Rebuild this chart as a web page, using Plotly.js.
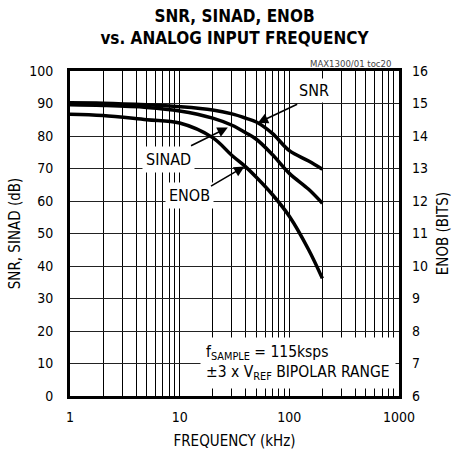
<!DOCTYPE html>
<html>
<head>
<meta charset="utf-8">
<script src="https://cdn.plot.ly/plotly-3.0.1.min.js"></script>
<style>
html,body{margin:0;padding:0;background:#fff;}
#chart{width:456px;height:460px;}
text{font-stretch:condensed !important;}
</style>
</head>
<body>
<div id="chart"></div>
<script>
// frequency (kHz)
var freq = [1, 2, 5, 10, 20, 30, 40, 50, 70, 100, 150, 200];
// SNR (dB)
var snr = [90.2, 90.1, 89.6, 89.0, 88.0, 86.8, 85.5, 84.3, 80.8, 75.5, 72.3, 69.8];
// SINAD (dB)
var sinad = [89.6, 89.4, 88.8, 87.7, 85.5, 83.3, 81.0, 79.0, 74.3, 68.5, 63.6, 59.3];
// ENOB (bits)
var enob = [14.67, 14.63, 14.5, 14.4, 13.95, 13.4, 13.05, 12.73, 12.2, 11.53, 10.5, 9.62];

var xTickVals = [1,2,3,4,5,6,7,8,9,10,20,30,40,50,60,70,80,90,100,200,300,400,500,600,700,800,900,1000];
var xTickText = ['1','','','','','','','','','10','','','','','','','','','100','','','','','','','','','1000'];
var yTickVals = [0,10,20,30,40,50,60,70,80,90,100];
var y2TickVals = [6,7,8,9,10,11,12,13,14,15,16];

var FONT = 'DejaVu Sans, sans-serif';
var lineStyle = {color: '#000', width: 3.5, shape: 'spline', smoothing: 1};

var traces = [
  {x: freq, y: snr, mode: 'lines', line: lineStyle, name: 'SNR', hoverinfo: 'skip'},
  {x: freq, y: sinad, mode: 'lines', line: lineStyle, name: 'SINAD', hoverinfo: 'skip'},
  {x: freq, y: enob, mode: 'lines', line: lineStyle, name: 'ENOB', yaxis: 'y2', hoverinfo: 'skip'}
];

function L(v){ return Math.log10(v); }

var layout = {
  width: 456, height: 460,
  margin: {l: 70, r: 57, t: 71, b: 64},
  paper_bgcolor: '#fff', plot_bgcolor: '#fff',
  showlegend: false,
  font: {family: FONT, size: 15, color: '#000'},
  title: {
    text: '<b>SNR, SINAD, ENOB</b><br><b>vs. ANALOG INPUT FREQUENCY</b>',
    font: {family: FONT, size: 17, color: '#000'},
    x: 0.5, xref: 'paper', y: 0.952, yref: 'container', yanchor: 'top'
  },
  xaxis: {
    type: 'log', range: [0, 3],
    tickvals: xTickVals, ticktext: xTickText,
    ticks: 'inside', ticklen: 6, tickcolor: '#000', tickwidth: 1,
    ticklabelstandoff: 6,
    showgrid: true, gridcolor: '#000', gridwidth: 1,
    showline: true, linecolor: '#000', linewidth: 3, mirror: true,
    tickfont: {family: FONT, size: 14},
    title: {text: 'FREQUENCY (kHz)', font: {family: FONT, size: 15}, standoff: 12},
    zeroline: false, fixedrange: true
  },
  yaxis: {
    range: [0, 100], tickvals: yTickVals,
    showgrid: true, gridcolor: '#222', gridwidth: 1,
    showline: true, linecolor: '#000', linewidth: 3, mirror: true,
    ticks: '', ticklabelstandoff: 11, tickfont: {family: FONT, size: 14},
    title: {text: 'SNR, SINAD (dB)', font: {family: FONT, size: 15}, standoff: 5},
    zeroline: false, fixedrange: true
  },
  yaxis2: {
    range: [6, 16], tickvals: y2TickVals,
    overlaying: 'y', side: 'right',
    showgrid: false, showline: false, zeroline: false,
    ticks: '', ticklabelstandoff: 12, tickfont: {family: FONT, size: 14},
    title: {text: 'ENOB (BITS)', font: {family: FONT, size: 15}, standoff: 10},
    fixedrange: true
  },
  annotations: [
    {xref: 'paper', yref: 'paper', x: 1, y: 1, xanchor: 'right', yanchor: 'bottom',
     xshift: -6, yshift: 0, showarrow: false, text: 'MAX1300/01 toc20',
     font: {family: FONT, size: 9.5, color: '#444'}},
    {xref: 'paper', yref: 'paper', x: 1, y: 0, xanchor: 'right', yanchor: 'bottom',
     xshift: -3, yshift: 7, showarrow: false, align: 'left', bgcolor: '#fff', borderpad: 5,
     text: 'f<sub>SAMPLE</sub> = 115ksps<br>±3 x V<sub>REF</sub> BIPOLAR RANGE',
     font: {family: FONT, size: 15.5, color: '#000'}},
    // labels
    {xref: 'x', yref: 'y', x: L(168.8), y: 94, text: 'SNR', showarrow: false, bgcolor: '#fff', borderpad: 2, font: {family: FONT, size: 16}},
    {xref: 'x', yref: 'y', x: L(7.94), y: 72.8, text: 'SINAD', showarrow: false, bgcolor: '#fff', borderpad: 3, font: {family: FONT, size: 16}},
    {xref: 'x', yref: 'y', x: L(12.2), y: 61.6, text: 'ENOB', showarrow: false, bgcolor: '#fff', borderpad: 3, font: {family: FONT, size: 16}},
    // arrows
    {xref: 'x', yref: 'y', axref: 'x', ayref: 'y', x: L(51.5), y: 84, ax: L(121.6), ay: 90,
     text: '', showarrow: true, arrowhead: 2, arrowsize: 1.3, arrowwidth: 1.6, arrowcolor: '#000'},
    {xref: 'x', yref: 'y', axref: 'x', ayref: 'y', x: L(27.5), y: 82.6, ax: L(12.3), ay: 76.8,
     text: '', showarrow: true, arrowhead: 2, arrowsize: 1.3, arrowwidth: 1.6, arrowcolor: '#000'},
    {xref: 'x', yref: 'y', axref: 'x', ayref: 'y', x: L(39), y: 70.6, ax: L(18.7), ay: 64.3,
     text: '', showarrow: true, arrowhead: 2, arrowsize: 1.3, arrowwidth: 1.6, arrowcolor: '#000'}
  ]
};

Plotly.newPlot('chart', traces, layout, {displayModeBar: false, staticPlot: true});
</script>
</body>
</html>
